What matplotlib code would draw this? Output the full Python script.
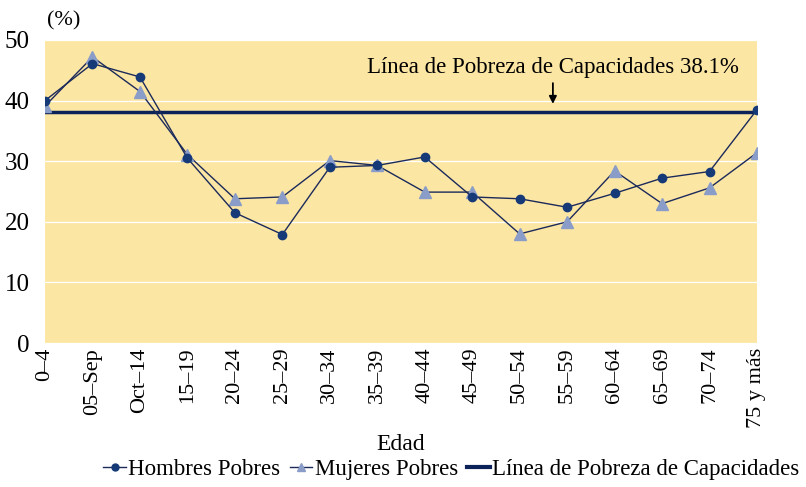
import numpy as np
import matplotlib.pyplot as plt
from matplotlib.lines import Line2D

edades = ["0\u20134", "05\u2013Sep", "Oct\u201314", "15\u201319", "20\u201324", "25\u201329",
          "30\u201334", "35\u201339", "40\u201344", "45\u201349", "50\u201354", "55\u201359",
          "60\u201364", "65\u201369", "70\u201374", "75 y más"]
hombres = [40.0, 46.1, 43.9, 30.5, 21.5, 17.9, 29.0, 29.3, 30.7, 24.1, 23.8, 22.4,
           24.7, 27.2, 28.3, 38.5]
mujeres = [39.1, 47.2, 41.5, 31.1, 23.8, 24.1, 30.1, 29.3, 24.9, 24.9, 18.0, 20.0,
           28.4, 23.0, 25.6, 31.4]
linea_pobreza = 38.1

plt.rcParams['font.family'] = ['Liberation Serif', 'DejaVu Serif']

fig = plt.figure(figsize=(8.06, 4.87), dpi=100)
ax = fig.add_axes([45 / 806, 1 - 343 / 487, 712 / 806, 303 / 487])
ax.set_facecolor('#FCE6A4')

x = np.arange(len(edades))
ax.plot(x, hombres, color='#1B2A5A', lw=1.0, marker='o', ms=6,
        mfc='#163A78', mec='#163A78', zorder=4)
ax.plot(x, mujeres, color='#1B2A5A', lw=1.0, marker='^', ms=8,
        mfc='#8A9CC8', mec='#8A9CC8', zorder=3)
ax.axhline(linea_pobreza, color='#0B2358', lw=2.5, zorder=2)

ax.set_xlim(0, len(edades) - 1)
ax.set_ylim(0, 50)
ax.set_yticks(range(0, 51, 10))
ax.yaxis.grid(True, color='white', lw=0.9)
ax.set_axisbelow(True)
for s in ax.spines.values():
    s.set_visible(False)
ax.tick_params(length=0)
ax.tick_params(axis='y', labelsize=18, pad=11)
ax.set_xticks(x)
ax.set_xticklabels(edades, rotation=90, fontsize=16)
ax.set_xlabel("Edad", fontsize=17, labelpad=4)

ax.text(0.003, 1.03, "(%)", transform=ax.transAxes, fontsize=16, ha='left', va='bottom')
ax.annotate("Línea de Pobreza de Capacidades 38.1%", xy=(10.7, 39.0), xytext=(10.7, 43.8),
            ha='center', va='bottom', fontsize=16.5,
            arrowprops=dict(arrowstyle='-|>', color='black', lw=1.3, mutation_scale=11))

handles = [
    Line2D([], [], color='#1B2A5A', lw=1, marker='o', ms=5, mfc='#163A78', mec='#163A78'),
    Line2D([], [], color='#1B2A5A', lw=1, marker='^', ms=6, mfc='#8A9CC8', mec='#8A9CC8'),
    Line2D([], [], color='#0B2358', lw=3),
]
fig.legend(handles, ["Hombres Pobres", "Mujeres Pobres", "Línea de Pobreza de Capacidades"],
           loc='center', bbox_to_anchor=(0.56, 0.035), ncol=3, frameon=False, fontsize=16.5,
           handlelength=1.0, handletextpad=0.1, columnspacing=0.4)

fig.savefig("out.png", dpi=100)
